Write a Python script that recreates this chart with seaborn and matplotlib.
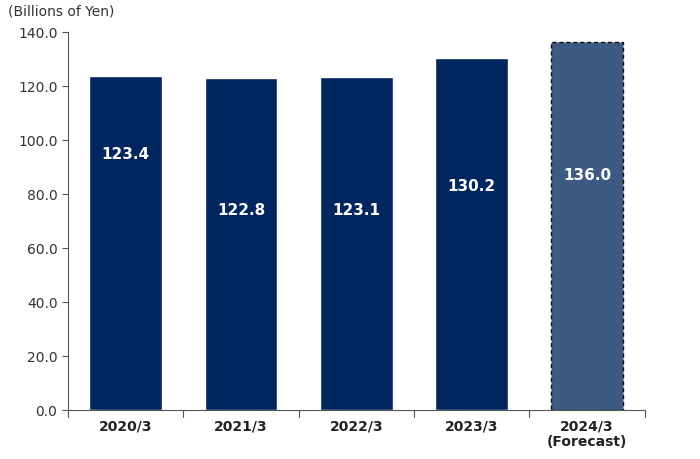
import numpy as np
import pandas as pd
import seaborn as sns
import matplotlib.pyplot as plt

years = ["2020/3", "2021/3", "2022/3", "2023/3", "2024/3\n(Forecast)"]
sales = [123.4, 122.8, 123.1, 130.2, 136.0]
label_heights = [95.0, 74.0, 74.0, 83.0, 87.0]

NAVY = "#002660"
FORECAST = "#3c5a84"


def main():
    df = pd.DataFrame({"Year": years, "Sales": sales})
    sns.set_style("white")
    fig = plt.figure(figsize=(7, 4.6), dpi=100)
    ax = fig.add_axes([0.097, 0.107, 0.824, 0.822])

    colors = [NAVY] * 4 + [FORECAST]
    sns.barplot(data=df, x="Year", y="Sales", hue="Year", palette=colors,
                width=0.63, legend=False, ax=ax, saturation=1)

    # forecast bar gets a dashed outline
    last = ax.patches[-1]
    last.set_edgecolor("#111111")
    last.set_linestyle((0, (3, 2)))
    last.set_linewidth(1.0)

    for i, (v, h) in enumerate(zip(sales, label_heights)):
        ax.text(i, h, f"{v:.1f}", ha="center", va="center", color="white",
                fontsize=11, fontweight="bold")

    ax.set_ylim(0, 140)
    ax.set_xlim(-0.5, 4.5)
    ax.set_yticks(np.arange(0, 141, 20))
    ax.set_yticklabels([f"{t:.1f}" for t in np.arange(0, 141, 20)],
                       fontsize=10, color="#333333")
    ax.set_xticks(range(5))
    ax.set_xticklabels(years, fontsize=10, fontweight="bold", color="#222222")
    ax.tick_params(axis="x", length=0, pad=6)
    ax.tick_params(axis="y", length=4, color="#555555", direction="out", left=True)
    ax.set_xlabel("")
    ax.set_ylabel("")
    for s in ["top", "right"]:
        ax.spines[s].set_visible(False)
    for s in ["left", "bottom"]:
        ax.spines[s].set_color("#555555")
        ax.spines[s].set_linewidth(0.8)
    # tick marks between categories on x axis
    for xb in np.arange(0.5, 4.6, 1.0):
        ax.plot([xb, xb], [0, -2.5], color="#555555", lw=0.8, clip_on=False)
    ax.plot([-0.5, -0.5], [0, -2.5], color="#555555", lw=0.8, clip_on=False)

    fig.text(0.012, 0.975, "(Billions of Yen)", fontsize=10, color="#333333",
             va="center", ha="left")

    plt.savefig("out.png", dpi=100)


if __name__ == "__main__":
    main()
